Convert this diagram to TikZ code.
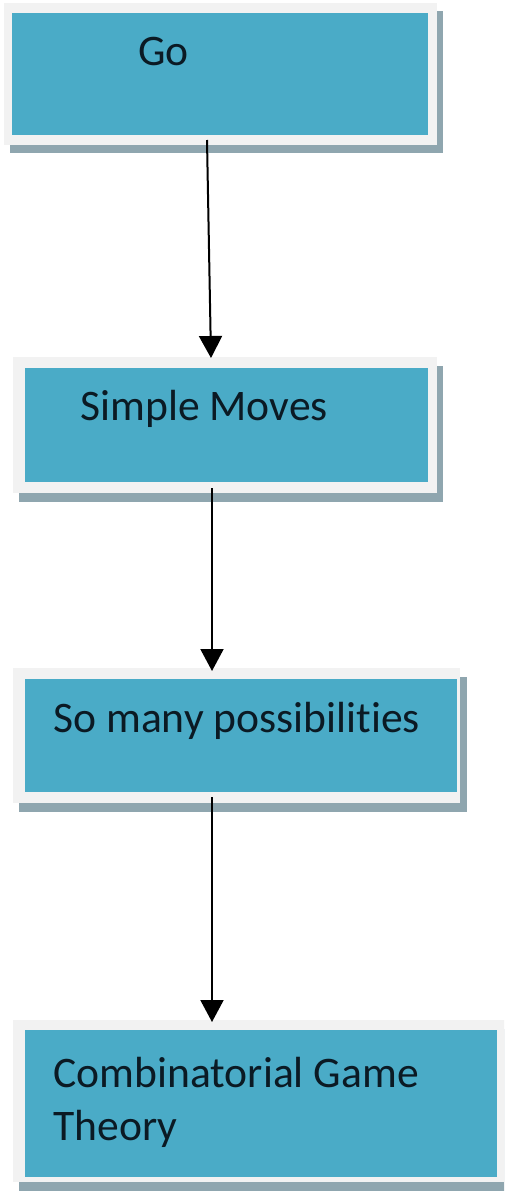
\documentclass[tikz,border=0pt]{standalone}
\usepackage{fontspec}
\setmainfont{Carlito}[Ligatures={NoCommon}]
\usetikzlibrary{arrows.meta,fit,calc}
\definecolor{tealbox}{HTML}{4AABC7}
\definecolor{framegrey}{HTML}{F2F2F2}
\definecolor{shadowgrey}{HTML}{8FA6AF}
\definecolor{txt}{HTML}{0B1A24}
\begin{document}
\begin{tikzpicture}[x=0.5pt,y=-0.5pt,
  frm/.style={fit={#1},inner sep=0pt,outer sep=0pt,fill=framegrey},
  shd/.style={fit={#1},inner sep=0pt,outer sep=0pt,fill=shadowgrey},
  tbox/.style={fit={#1},inner sep=0pt,outer sep=0pt,fill=tealbox},
  lbl/.style={inner sep=0pt,text=txt,font=\fontsize{21.8}{26.5}\selectfont,align=left},
  arr/.style={line width=1pt,-{Triangle[width=11.5pt,length=11pt]},black}]
\useasboundingbox (0,0) rectangle (504,1194);
\fill[white] (0,0) rectangle (504,1194);
\clip (0,0) rectangle (504,1194);
% box 1
\node[shd={(10,11)(443,153)}] (s1) {};
\node[frm={(4,3)(437,145)}] (f1) {};
\node[tbox={(12,13)(428,135)}] (b1) {};
\node[lbl,anchor=base west] (t1) at (138,65) {Go};
% box 2
\node[shd={(19,366)(443,502)}] (s2) {};
\node[frm={(13,357)(437,493)}] (f2) {};
\node[tbox={(25,368)(428,482)}] (b2) {};
\node[lbl,anchor=base west] (t2) at (80,420) {Simple Moves};
% box 3
\node[shd={(19,677)(467,812)}] (s3) {};
\node[frm={(13,668)(460,803)}] (f3) {};
\node[tbox={(25,679)(457,792)}] (b3) {};
\node[lbl,anchor=base west] (t3) at (53,732) {So many possibilities};
% box 4
\node[shd={(19,1029)(516,1191)}] (s4) {};
\node[frm={(13,1020)(510,1182)}] (f4) {};
\node[tbox={(25,1030)(497,1177)}] (b4) {};
\node[lbl,anchor=base west] (t4) at (53,1140) {Combinatorial Game\\Theory};
% arrows
\draw[arr] ($(b1.south west)+(195,5)$) -- ($(f2.north west)+(198,1)$);
\draw[arr] ($(b2.south west)+(187,6)$) -- ($(f3.north west)+(199,3)$);
\draw[arr] ($(b3.south west)+(187,5)$) -- ($(f4.north west)+(199,2)$);
\end{tikzpicture}
\end{document}
